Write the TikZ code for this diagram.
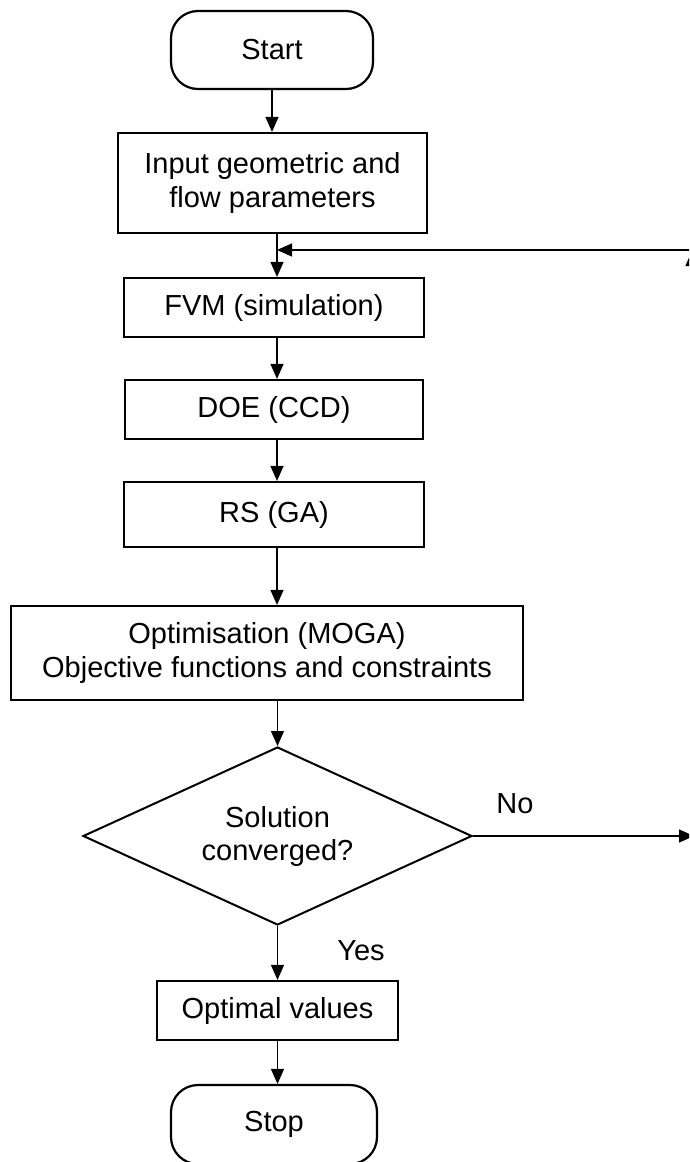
\documentclass[tikz,border=0pt]{standalone}
\usepackage{fontspec}
\setmainfont{Liberation Sans}
\usetikzlibrary{shapes.geometric,arrows.meta}
\tikzset{
  box/.style={draw=black, line width=2.2pt, inner sep=0pt, align=center,
    font=\fontsize{29}{34.5}\selectfont},
  term/.style={box, rounded corners=27pt},
  decision/.style={draw=black, line width=2pt, diamond, aspect=2.185, inner sep=0pt, align=center,
    minimum width=389pt, minimum height=178pt,
    font=\fontsize{29}{33}\selectfont},
  arr/.style={line width=1.3pt, -{Triangle[length=15pt,width=13pt]}},
  lbl/.style={inner sep=0pt, font=\fontsize{29}{34.5}\selectfont}
}
\begin{document}
\begin{tikzpicture}[x=1pt,y=-1pt]
\useasboundingbox (0,0) rectangle (689,1162);
\clip (0,0) rectangle (689,1162);
\fill[white] (0,0) rectangle (689,1162);
\coordinate (axisA) at (272,0);
\coordinate (axis) at (277,0);
\node[term, minimum width=202pt, minimum height=78pt] (start) at (272,50) {Start};
\node[box, minimum width=309pt, minimum height=100pt] (input) at (272.5,183) {Input geometric and\\flow parameters};
\node[box, minimum width=300pt, minimum height=59pt] (fvm) at (274,307.5) {FVM (simulation)};
\node[box, minimum width=298pt, minimum height=59pt] (doe) at (274,409.5) {DOE (CCD)};
\node[box, minimum width=300pt, minimum height=65pt] (rs) at (274,514.5) {RS (GA)};
\node[box, minimum width=512pt, minimum height=94pt] (optim) at (267,653) {Optimisation (MOGA)\\Objective functions and constraints};
\node[decision] (dec) at (277.5,836) {Solution\\converged?};
\node[box, minimum width=241pt, minimum height=59pt] (optimal) at (277.5,1010.5) {Optimal values};
\node[term, minimum width=206pt, minimum height=79pt] (stop) at (274,1124.5) {Stop};
\node[lbl] (no) at (515,804) {No};
\node[lbl] (yes) at (361,951) {Yes};
\coordinate (fbR) at (700,250);
\coordinate (noEnd) at (694,836);
\coordinate (upTop) at (692,251);
\coordinate (upBot) at (692,836);
\draw[arr] (start.south -| axisA) -- (input.north -| axisA);
\draw[arr] (input.south -| axis) -- (fvm.north -| axis);
\draw[arr] (fbR) -- (fbR -| axis);
\draw[arr] (fvm.south -| axis) -- (doe.north -| axis);
\draw[arr] (doe.south -| axis) -- (rs.north -| axis);
\draw[arr] (rs.south -| axis) -- (optim.north -| axis);
\draw[arr] (optim.south -| dec.north) -- (dec.north);
\draw[arr] (dec.east) -- (noEnd);
\draw[arr] (upBot) -- (upTop);
\draw[arr] (dec.south) -- (optimal.north);
\draw[arr] (optimal.south) -- (stop.north -| optimal.south);
\end{tikzpicture}
\end{document}
